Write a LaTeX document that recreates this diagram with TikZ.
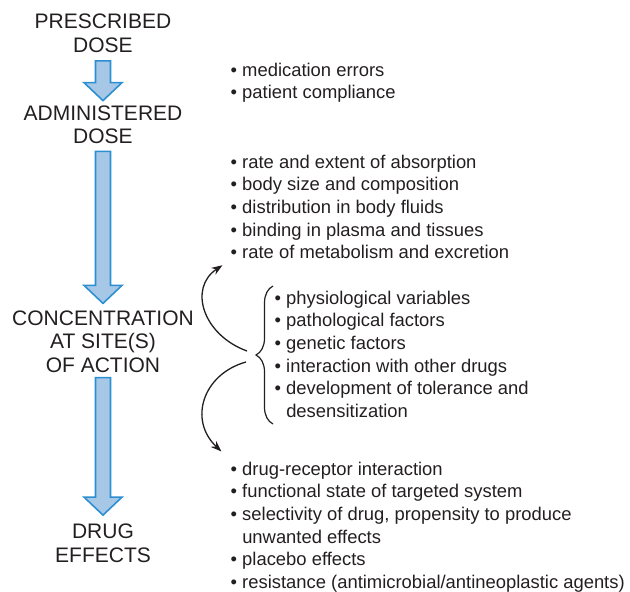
\documentclass[tikz,border=0pt]{standalone}
\usepackage{fontspec}
\setmainfont{Liberation Sans}
\usetikzlibrary{arrows.meta,calc,decorations.pathreplacing}
\definecolor{dose-blue}{HTML}{2B8FD1}
\definecolor{dose-fill}{HTML}{A7C7E7}
\definecolor{ink}{HTML}{231F20}

\tikzset{
  stage/.style={align=center, inner sep=0pt, text=ink, font=\fontsize{21}{23.5}\selectfont},
  facts/.style={align=left, anchor=north west, inner sep=0pt, text=ink, font=\fontsize{18.4}{22.7}\selectfont},
  fatarrow/.style={draw=dose-blue, fill=dose-fill, line width=1.6pt},
  backarrow/.style={->, >={Stealth[length=11pt,width=8pt]}, line width=1.3pt, draw=ink},
}

% wide blue arrow between two stages
\newcommand{\flowarrow}[2]{%
  \draw[fatarrow] let \p1=(#1), \p2=(#2) in
    (\x1-7.5pt,\y1) -- (\x1+7.5pt,\y1) -- (\x1+7.5pt,\y2+18pt) -- (\x1+19pt,\y2+18pt)
    -- (\x1,\y2) -- (\x1-19pt,\y2+18pt) -- (\x1-7.5pt,\y2+18pt) -- cycle;}

\begin{document}
\begin{tikzpicture}[x=1pt,y=-1pt]
    \useasboundingbox (0,0) rectangle (630,592);

    \node[stage] (pd) at (103,33.5) {PRESCRIBED\\DOSE};
    \node[stage] (ad) at (103,125) {ADMINISTERED\\DOSE};
    \node[stage] (cs) at (103,341.5) {CONCENTRATION\\AT SITE(S)\\OF ACTION};
    \node[stage] (de) at (103,543.5) {DRUG\\EFFECTS};

    \flowarrow{[yshift=-8pt]pd.south}{[yshift=5pt]ad.north}
    \flowarrow{[yshift=-7pt]ad.south}{[yshift=7pt]cs.north}
    \flowarrow{[yshift=-5pt]cs.south}{[yshift=9pt]de.north}

    \node[facts] (use) at (230.5,62.5) {• medication errors\\• patient compliance};
    \node[facts] (kin) at (230.5,154.5) {• rate and extent of absorption\\
        • body size and composition\\• distribution in body fluids\\
        • binding in plasma and tissues\\• rate of metabolism and excretion};
    \node[facts] (var) at (274.5,290.5) {• physiological variables\\• pathological factors\\
        • genetic factors\\• interaction with other drugs\\
        • development of tolerance and\\\phantom{•\ }desensitization};
    \node[facts] (eff) at (230.5,461.5) {• drug-receptor interaction\\
        • functional state of targeted system\\
        • selectivity of drug, propensity to produce\\\phantom{•\ }unwanted effects\\
        • placebo effects\\• resistance (antimicrobial/antineoplastic agents)};

    % brace and the two bent arrows
    \draw[ink, line width=1.2pt, decorate, decoration={brace, amplitude=17pt}] (273,424) -- (273,286);
    \coordinate (tip) at (254,355);
    \draw[backarrow] ($(tip)+(-7,-4)$) .. controls (203,335) and (188,288) .. ($(kin.south west)+(-8,6)$);
    \draw[backarrow] ($(tip)+(-8,7)$) .. controls (203,374) and (188,420) .. ($(eff.north west)+(-9,-10)$);

\end{tikzpicture}
\end{document}
